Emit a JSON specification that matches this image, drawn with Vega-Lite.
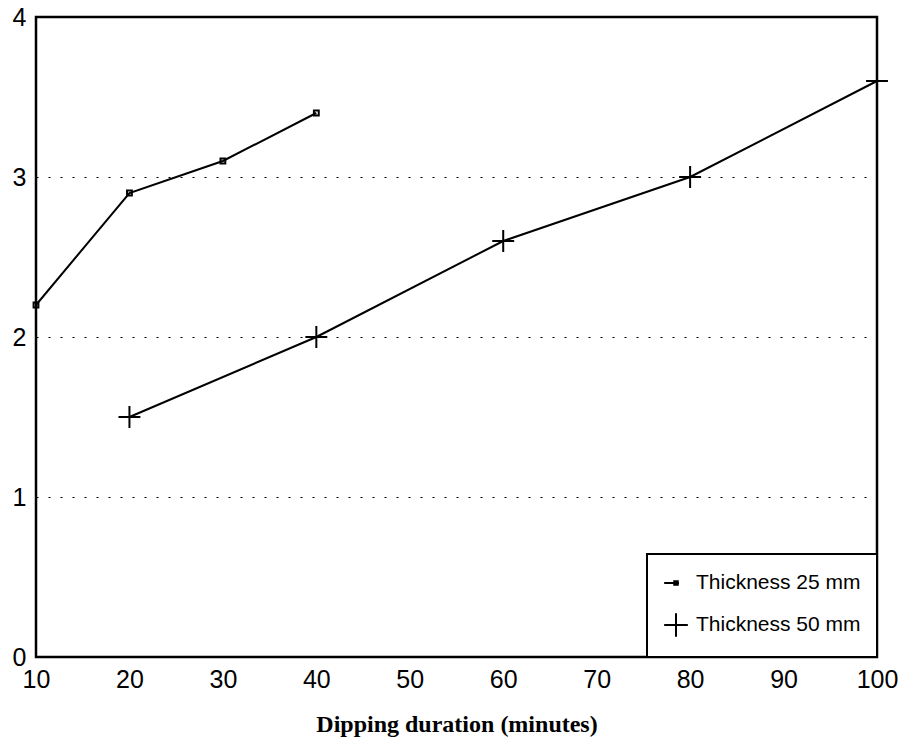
{
  "$schema": "https://vega.github.io/schema/vega-lite/v6.json",
  "width": 841,
  "height": 640,
  "autosize": {"type": "none"},
  "padding": {"left": 36, "top": 17, "right": 28, "bottom": 86},
  "background": "white",
  "config": {
    "view": {"stroke": "black", "strokeWidth": 2.5},
    "legend": {"strokeWidth": 2}
  },
  "data": {
    "values": [
      {"series": "Thickness 25 mm", "minutes": 10, "value": 2.2},
      {"series": "Thickness 25 mm", "minutes": 20, "value": 2.9},
      {"series": "Thickness 25 mm", "minutes": 30, "value": 3.1},
      {"series": "Thickness 25 mm", "minutes": 40, "value": 3.4},
      {"series": "Thickness 50 mm", "minutes": 20, "value": 1.5},
      {"series": "Thickness 50 mm", "minutes": 40, "value": 2.0},
      {"series": "Thickness 50 mm", "minutes": 60, "value": 2.6},
      {"series": "Thickness 50 mm", "minutes": 80, "value": 3.0},
      {"series": "Thickness 50 mm", "minutes": 100, "value": 3.6}
    ]
  },
  "encoding": {
    "x": {
      "field": "minutes", "type": "quantitative",
      "scale": {"domain": [10, 100], "nice": false, "zero": false},
      "axis": {
        "values": [10, 20, 30, 40, 50, 60, 70, 80, 90, 100],
        "grid": false, "domain": false, "ticks": false, "labelFlush": false,
        "labelPadding": 10, "labelFont": "Liberation Sans", "labelFontSize": 25, "labelColor": "black",
        "title": "Dipping duration (minutes)",
        "titleFont": "Liberation Serif", "titleFontSize": 24, "titleFontWeight": "bold",
        "titleColor": "black", "titlePadding": 20
      }
    },
    "y": {
      "field": "value", "type": "quantitative",
      "scale": {"domain": [0, 4], "nice": false},
      "axis": {
        "values": [0, 1, 2, 3, 4], "title": null, "labelPadding": 10,
        "domain": false, "ticks": false, "labelFlush": false,
        "labelFont": "Liberation Sans", "labelFontSize": 25, "labelColor": "black",
        "grid": true, "gridColor": "black", "gridDash": [2, 10], "gridWidth": 1.2
      }
    }
  },
  "resolve": {"scale": {"shape": "independent"}, "legend": {"shape": "independent"}},
  "layer": [
    {
      "mark": {"type": "line", "color": "black", "strokeWidth": 2},
      "encoding": {"detail": {"field": "series"}}
    },
    {
      "mark": {"type": "point", "filled": false, "stroke": "black", "strokeWidth": 2, "opacity": 1, "size": 480},
      "encoding": {
        "shape": {
          "field": "series", "type": "nominal",
          "scale": {"domain": ["Thickness 25 mm", "Thickness 50 mm"], "range": ["M-0.22,-0.22L0.22,-0.22L0.22,0.22L-0.22,0.22Z", "M-1,0L1,0M0,-1L0,1"]},
          "legend": null
        }
      }
    },
    {
      "transform": [{"filter": {"field": "minutes", "lt": 0}}],
      "mark": {"type": "point", "filled": false, "color": "black", "strokeWidth": 2, "size": 560, "opacity": 1},
      "encoding": {
        "shape": {
          "field": "series", "type": "nominal",
          "scale": {"domain": ["Thickness 25 mm", "Thickness 50 mm"], "range": ["M-1,0L0.25,0M-0.15,-0.15L0.15,-0.15L0.15,0.15L-0.15,0.15Z", "M-1,0L1,0M0,-1L0,1"]},
          "legend": {
            "title": null,
            "orient": "bottom-right", "offset": 0,
            "strokeColor": "black", "fillColor": "white",
            "padding": 16, "rowPadding": 16,
            "labelFont": "Liberation Sans", "labelFontSize": 21, "labelColor": "black", "labelOffset": 7,
            "labelLimit": 400,
            "labelExpr": "datum.label + '\u00a0\u00a0\u00a0\u00a0'",
            "symbolStrokeColor": "black", "symbolStrokeWidth": 2, "symbolSize": 560, "symbolOpacity": 1
          }
        }
      }
    }
  ]
}
